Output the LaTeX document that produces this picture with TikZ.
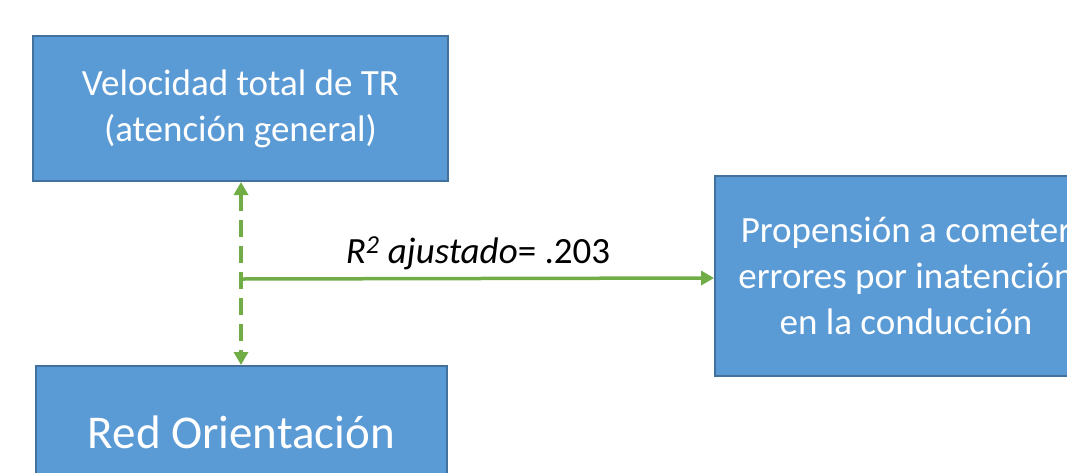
\documentclass[tikz,border=0pt]{standalone}
\usepackage{fontspec}
\setmainfont{Carlito}
\usetikzlibrary{arrows.meta}
\definecolor{boxfill}{HTML}{5B9BD5}
\definecolor{boxline}{HTML}{41719C}
\definecolor{arrowgreen}{HTML}{70AD47}
\begin{document}
\begin{tikzpicture}[x=1pt,y=-1pt,
  blockbox/.style={draw=boxline, line width=1.8pt, fill=boxfill, text=white,
    align=center, inner sep=0pt, font=\fontsize{37}{46}\selectfont},
  greenline/.style={draw=arrowgreen, line width=3.5pt,
    -{Triangle[length=13pt,width=14pt]}}
]
\useasboundingbox (0,0) rectangle (1067,472);
\node[blockbox, minimum width=415pt, minimum height=145pt] (vel) at (240.5,108.5)
  {Velocidad total de TR\\(atención general)};
\node[blockbox, minimum width=382pt, minimum height=200pt] (prop) at (906,276)
  {Propensión a cometer\\errores por inatención\\en la conducción};
\node[blockbox, minimum width=411pt, minimum height=132pt,
  font=\fontsize{47}{56}\selectfont] (red) at (241.5,432) {Red Orientación};
\coordinate (vtop) at (241,182);
\coordinate (vbot) at (241,365);
\coordinate (j) at (241,279);
\draw[draw=arrowgreen, line width=3.5pt, dash pattern=on 17pt off 9pt,
  {Triangle[length=13pt,width=14pt]}-{Triangle[length=13pt,width=14pt]}]
  (vtop) -- (vbot);
\draw[greenline] (j) -- ([yshift=-2pt]prop.west);
\node[anchor=base, font=\fontsize{37}{44}\selectfont] (lab) at (478,263)
  {\textit{R\textsuperscript{2} ajustado}= .203};
\end{tikzpicture}
\end{document}
